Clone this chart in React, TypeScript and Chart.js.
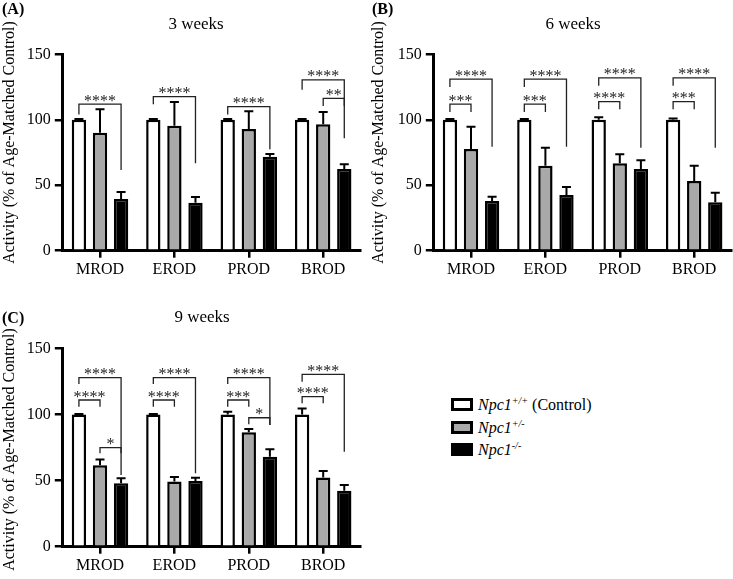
import React, { useEffect, useRef } from 'react';
import { Chart, registerables } from 'chart.js';

Chart.register(...registerables);

const FONT = "'Liberation Serif', 'Times New Roman', serif";

const categories = ['MROD', 'EROD', 'PROD', 'BROD'];
const yTicks = [0, 50, 100, 150];
const yTitle = 'Activity (% of Age-Matched Control)';
const barColors = ['#ffffff', '#a9a9a9', '#000000'];

// 3 weeks
const w3Control = [100, 100, 100, 100];
const w3Het = [90, 95.5, 93, 96.5];
const w3Ko = [39.5, 36.7, 71.8, 62.4];
const w3ControlSd = [0.5, 0.5, 0.5, 0.5];
const w3HetSd = [18, 18, 13.5, 9.5];
const w3KoSd = [5.3, 4.3, 2.1, 3.6];
// [category, fromBar, toBar, bracketTop, leftLegEnd, rightLegEnd, label]
const w3Brackets: [number, number, number, number, number, number, string][] = [
  [0, 0, 2, 112, 104, 61.6, '****'],
  [1, 0, 2, 117.6, 111.8, 66.7, '****'],
  [2, 0, 2, 110, 104, 77.4, '****'],
  [3, 0, 2, 130.4, 123, 85.8, '****'],
  [3, 1, 2, 116.4, 110.5, 110.5, '**'],
];

// 6 weeks
const w6Control = [100, 100, 100, 100];
const w6Het = [77.6, 64.9, 66.7, 53.2];
const w6Ko = [38, 42.5, 62.4, 37];
const w6ControlSd = [0.5, 0.5, 2, 1];
const w6HetSd = [17.1, 13.7, 6.9, 11.7];
const w6KoSd = [3.2, 6.1, 6.6, 7.3];
const w6Brackets: [number, number, number, number, number, number, string][] = [
  [0, 0, 2, 131, 125, 79.4, '****'],
  [0, 0, 1, 112, 106, 106, '***'],
  [1, 0, 2, 131, 125, 79.4, '****'],
  [1, 0, 1, 112, 106, 106, '***'],
  [2, 0, 2, 132, 126, 78.6, '****'],
  [2, 0, 1, 113.8, 108, 108, '****'],
  [3, 0, 2, 132, 126, 78.6, '****'],
  [3, 0, 1, 113.8, 108, 108, '***'],
];

// 9 weeks
const w9Control = [100, 100, 100, 100];
const w9Het = [61.5, 49.2, 86.5, 52.4];
const w9Ko = [47.9, 49.7, 68, 42.3];
const w9ControlSd = [0.3, 0.3, 2, 4.4];
const w9HetSd = [4.5, 3.5, 2.5, 4.8];
const w9KoSd = [3.8, 2.5, 5.6, 4.3];
const w9Brackets: [number, number, number, number, number, number, string][] = [
  [0, 0, 2, 127.8, 123, 54.2, '****'],
  [0, 0, 1, 110.9, 105.9, 105.9, '****'],
  [0, 1, 2, 74.9, 70.6, 70.6, '*'],
  [1, 0, 2, 127.8, 123, 55.5, '****'],
  [1, 0, 1, 110.9, 105.9, 105.9, '****'],
  [2, 0, 2, 127.8, 123, 92, '****'],
  [2, 0, 1, 110.9, 105.9, 105.9, '***'],
  [2, 1, 2, 97.5, 92.5, 92, '*'],
  [3, 0, 2, 130.3, 124.8, 71.8, '****'],
  [3, 0, 1, 113.4, 108.4, 108.4, '****'],
];

const annotPlugin = {
  id: 'annot',
  afterDatasetsDraw(chart: any, _args: any, opts: any) {
    const ctx = chart.ctx;
    const y = chart.scales.y;
    const sds: number[][] = opts.sds || [];
    ctx.save();
    ctx.strokeStyle = '#000';
    ctx.lineWidth = 2;
    chart.data.datasets.forEach((ds: any, di: number) => {
      const meta = chart.getDatasetMeta(di);
      meta.data.forEach((bar: any, i: number) => {
        const v = ds.data[i];
        const sd = (sds[di] || [])[i] || 0;
        const y0 = y.getPixelForValue(v);
        const y1 = y.getPixelForValue(v + sd);
        ctx.beginPath();
        ctx.moveTo(bar.x, y0);
        ctx.lineTo(bar.x, y1);
        ctx.moveTo(bar.x - 4.5, y1);
        ctx.lineTo(bar.x + 4.5, y1);
        ctx.stroke();
      });
    });
    const brackets = opts.brackets || [];
    ctx.strokeStyle = '#222';
    ctx.fillStyle = '#222';
    ctx.lineWidth = 1.3;
    ctx.font = `16px ${FONT}`;
    ctx.textAlign = 'center';
    ctx.textBaseline = 'alphabetic';
    brackets.forEach((b: any) => {
      const [cat, from, to, top, le, re, label] = b;
      const xa = chart.getDatasetMeta(from).data[cat].x;
      const xb = chart.getDatasetMeta(to).data[cat].x;
      const yt = y.getPixelForValue(top);
      ctx.beginPath();
      ctx.moveTo(xa, y.getPixelForValue(le));
      ctx.lineTo(xa, yt);
      ctx.lineTo(xb, yt);
      ctx.lineTo(xb, y.getPixelForValue(re));
      ctx.stroke();
      ctx.fillText(label, (xa + xb) / 2, yt + 1.5);
    });
    // y-axis title
    if (opts.title) {
      ctx.fillStyle = '#000';
      ctx.font = `16px ${FONT}`;
      ctx.textBaseline = 'middle';
      ctx.textAlign = 'center';
      ctx.translate(opts.title.x, (y.top + y.bottom) / 2 + opts.title.dy);
      ctx.rotate(-Math.PI / 2);
      ctx.fillText(opts.title.text, 0, 0);
    }
    ctx.restore();
  },
};

type PanelCfg = {
  left: number;
  top: number;
  width: number;
  height: number;
  padTop: number;
  padRight: number;
  yWidth: number;
  xHeight: number;
  titleX: number;
  titleDy: number;
  values: number[][];
  sds: number[][];
  brackets: any[];
};

function Panel({ cfg }: { cfg: PanelCfg }) {
  const ref = useRef<HTMLCanvasElement>(null);
  useEffect(() => {
    if (!ref.current) return;
    const chart = new Chart(ref.current, {
      type: 'bar',
      data: {
        labels: categories,
        datasets: cfg.values.map((vals, i) => ({
          label: String(i),
          data: vals,
          backgroundColor: barColors[i],
          borderColor: '#000',
          borderWidth: 2.5,
          categoryPercentage: 0.85,
          barPercentage: 0.68,
        })),
      },
      options: {
        responsive: false,
        animation: false,
        layout: { padding: { top: cfg.padTop, right: cfg.padRight, left: 0, bottom: 0 } },
        plugins: {
          legend: { display: false },
          tooltip: { enabled: false },
          annot: {
            sds: cfg.sds,
            brackets: cfg.brackets,
            title: { text: yTitle, x: cfg.titleX, dy: cfg.titleDy },
          },
        } as any,
        scales: {
          x: {
            type: 'category',
            offset: true,
            grid: {
              offset: false,
              drawOnChartArea: false,
              drawTicks: true,
              tickLength: 7,
              lineWidth: 2.5,
              tickWidth: 2.5,
              tickColor: '#000',
              color: '#000',
            },
            border: { display: true, width: 3, color: '#000' },
            ticks: { font: { family: FONT, size: 16 }, color: '#000', padding: 2, maxRotation: 0 },
            afterFit: (s: any) => {
              s.height = cfg.xHeight;
            },
          },
          y: {
            min: 0,
            max: 150,
            afterBuildTicks: (s: any) => {
              s.ticks = yTicks.map((v) => ({ value: v }));
            },
            grid: {
              drawOnChartArea: false,
              drawTicks: true,
              tickLength: 8,
              lineWidth: 2.5,
              tickWidth: 2.5,
              tickColor: '#000',
              color: '#000',
            },
            border: { display: true, width: 3, color: '#000' },
            ticks: { font: { family: FONT, size: 16 }, color: '#000', padding: 4 },
            title: { display: false },
            afterFit: (s: any) => {
              s.width = cfg.yWidth;
            },
          },
        },
      },
      plugins: [annotPlugin],
    } as any);
    return () => chart.destroy();
  }, [cfg]);
  return (
    <canvas
      ref={ref}
      width={cfg.width}
      height={cfg.height}
      style={{ position: 'absolute', left: cfg.left, top: cfg.top, width: cfg.width, height: cfg.height }}
    />
  );
}

const panelA: PanelCfg = {
  left: 0, top: 0, width: 366, height: 285, padTop: 54.3, padRight: 5.6, yWidth: 62.8, xHeight: 34.3,
  titleX: 10, titleDy: -10,
  values: [w3Control, w3Het, w3Ko], sds: [w3ControlSd, w3HetSd, w3KoSd], brackets: w3Brackets,
};
const panelB: PanelCfg = {
  left: 352, top: 0, width: 381, height: 285, padTop: 54.3, padRight: 1.6, yWidth: 81.8, xHeight: 34.3,
  titleX: 27, titleDy: -10,
  values: [w6Control, w6Het, w6Ko], sds: [w6ControlSd, w6HetSd, w6KoSd], brackets: w6Brackets,
};
const panelC: PanelCfg = {
  left: 0, top: 285, width: 366, height: 294, padTop: 63.3, padRight: 5.6, yWidth: 62.8, xHeight: 32.3,
  titleX: 10, titleDy: 2,
  values: [w9Control, w9Het, w9Ko], sds: [w9ControlSd, w9HetSd, w9KoSd], brackets: w9Brackets,
};

const textBase: React.CSSProperties = {
  position: 'absolute',
  fontFamily: FONT,
  fontSize: 16,
  lineHeight: '16px',
  color: '#000',
  whiteSpace: 'nowrap',
};

function Centered({ x, y, children }: { x: number; y: number; children: React.ReactNode }) {
  return (
    <div style={{ ...textBase, fontSize: 17, left: x - 100, top: y, width: 200, textAlign: 'center' }}>
      {children}
    </div>
  );
}

const legendItems = [
  { sup: '+/+', extra: ' (Control)', fill: '#ffffff' },
  { sup: '+/-', extra: '', fill: '#a9a9a9' },
  { sup: '-/-', extra: '', fill: '#000000' },
];

export default function App() {
  return (
    <div style={{ position: 'absolute', left: 0, top: 0, width: 733, height: 579, background: '#fff', overflow: 'hidden' }}>
      <Panel cfg={panelA} />
      <Panel cfg={panelB} />
      <Panel cfg={panelC} />
      <div style={{ ...textBase, left: 2, top: 1, fontWeight: 'bold' }}>(A)</div>
      <div style={{ ...textBase, left: 372, top: 1, fontWeight: 'bold' }}>(B)</div>
      <div style={{ ...textBase, left: 2, top: 310, fontWeight: 'bold' }}>(C)</div>
      <Centered x={196} y={16}>3 weeks</Centered>
      <Centered x={573} y={16}>6 weeks</Centered>
      <Centered x={202} y={309}>9 weeks</Centered>
      {legendItems.map((it, i) => (
        <div key={i} style={{ position: 'absolute', left: 451, top: 398 + i * 22.7, height: 15 }}>
          <div
            style={{
              position: 'absolute',
              left: 0,
              top: 0,
              width: 22,
              height: 13,
              boxSizing: 'border-box',
              border: '3px solid #000',
              background: it.fill,
            }}
          />
          <div style={{ ...textBase, left: 27, top: -1 }}>
            <i>Npc1</i>
            <sup style={{ fontSize: 10, fontStyle: 'italic', verticalAlign: 0, position: 'relative', top: -6 }}>{it.sup}</sup>
            {it.extra}
          </div>
        </div>
      ))}
    </div>
  );
}
